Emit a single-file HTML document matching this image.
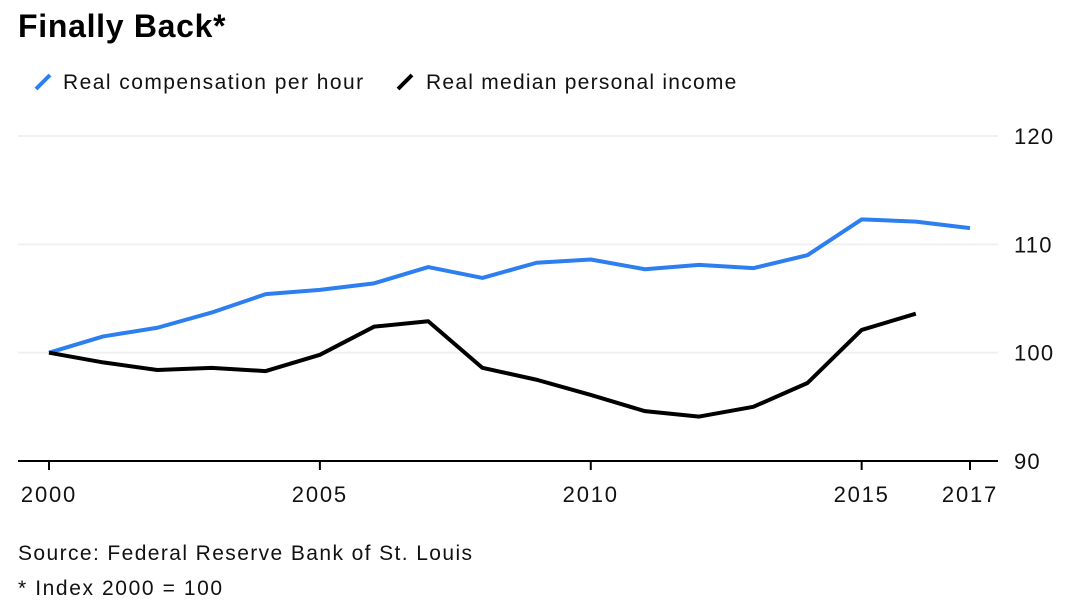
<!DOCTYPE html>
<html><head><meta charset="utf-8"><style>
body{margin:0;background:#fff;width:1080px;height:607px;overflow:hidden;font-family:"Liberation Sans",sans-serif}
</style></head><body>
<svg width="1080" height="607">
<text x="18" y="37" font-size="32" font-weight="bold" letter-spacing="0.7" fill="#000">Finally Back*</text>
<g>
<line x1="36" y1="89" x2="50" y2="75" stroke="#2d7ff0" stroke-width="4"/>
<text x="63" y="89" font-size="21" letter-spacing="1.45" fill="#111">Real compensation per hour</text>
<line x1="398" y1="89" x2="412" y2="75" stroke="#000" stroke-width="4"/>
<text x="426" y="89" font-size="21" letter-spacing="1.25" fill="#111">Real median personal income</text>
</g>
<g id="grid"></g><g id="axes"></g><g id="series"></g>
<text x="18" y="560" font-size="21" letter-spacing="1.4" fill="#111">Source: Federal Reserve Bank of St. Louis</text>
<text x="18" y="595" font-size="21" letter-spacing="1.6" fill="#111">* Index 2000 = 100</text>
</svg>
<script>
const years=[2000,2001,2002,2003,2004,2005,2006,2007,2008,2009,2010,2011,2012,2013,2014,2015,2016,2017];
const compensation=[100,101.5,102.3,103.7,105.4,105.8,106.4,107.9,106.9,108.3,108.6,107.7,108.1,107.8,109.0,112.3,112.1,111.5];
const incomeYears=[2000,2001,2002,2003,2004,2005,2006,2007,2008,2009,2010,2011,2012,2013,2014,2015,2016];
const income=[100,99.1,98.4,98.6,98.3,99.8,102.4,102.9,98.6,97.5,96.1,94.6,94.1,95.0,97.2,102.1,103.6];
const yTicks=[90,100,110,120];
const xTicks=[2000,2005,2010,2015,2017];
const NS="http://www.w3.org/2000/svg";
const x=v=>49+(v-2000)*(970-49)/17;
const y=v=>461-(v-90)*(461-136)/30;
function mk(t,a,p){const e=document.createElementNS(NS,t);for(const k in a)e.setAttribute(k,a[k]);p.appendChild(e);return e;}
const grid=document.getElementById('grid'),axes=document.getElementById('axes'),series=document.getElementById('series');
yTicks.forEach(v=>{
 if(v>90){const g=mk('line',{x1:18,x2:998,y1:y(v),y2:y(v),stroke:'#f0f0f0','stroke-width':2},grid);
 
 }
 const t=mk('text',{x:1014,y:y(v)+8,'font-size':22,'letter-spacing':1.2,fill:'#111'},axes);t.textContent=v;
 
 
});
const ax=mk('line',{x1:18,x2:998,y1:461,y2:461,stroke:'#000','stroke-width':2},axes);


xTicks.forEach(v=>{
 const tk=mk('line',{x1:x(v),x2:x(v),y1:461,y2:470,stroke:'#000','stroke-width':2},axes);
 
 
 const t=mk('text',{x:x(v),y:502,'font-size':22,'letter-spacing':1.8,fill:'#111','text-anchor':'middle'},axes);t.textContent=v;
 
 
});
const l1=mk('polyline',{points:years.map((yr,i)=>x(yr)+','+y(compensation[i])).join(' '),fill:'none',stroke:'#2d7ff0','stroke-width':4,'stroke-linejoin':'round'},series);


const l2=mk('polyline',{points:incomeYears.map((yr,i)=>x(yr)+','+y(income[i])).join(' '),fill:'none',stroke:'#000','stroke-width':4,'stroke-linejoin':'round'},series);


</script>
</body></html>
